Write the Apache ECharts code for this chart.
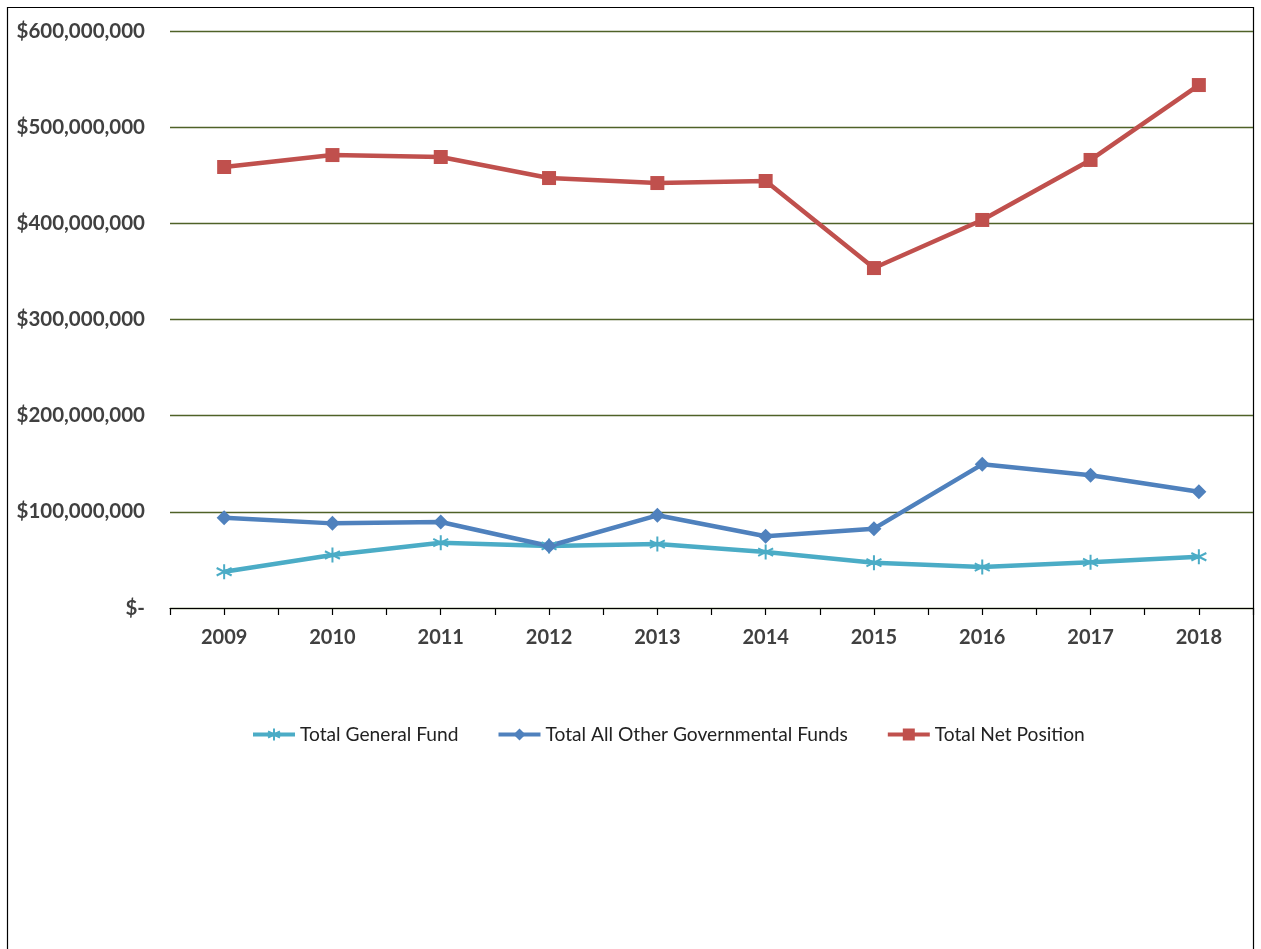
<!DOCTYPE html>
<html>
<head>
<meta charset="utf-8">
<script src="https://cdn.jsdelivr.net/npm/echarts@6/dist/echarts.min.js"></script>
<style>
html,body{margin:0;padding:0;background:#fff;}
#chart{width:1261px;height:949px;}
</style>
</head>
<body>
<div id="chart"></div>
<script>
const years = ['2009','2010','2011','2012','2013','2014','2015','2016','2017','2018'];
const generalFund = [37.7e6, 55.1e6, 67.9e6, 64.5e6, 66.5e6, 58.2e6, 47.1e6, 42.6e6, 47.5e6, 53.3e6];
const otherFunds = [93.9e6, 88.0e6, 89.4e6, 64.5e6, 96.4e6, 74.6e6, 82.5e6, 149.4e6, 138.0e6, 120.9e6];
const netPosition = [458.6e6, 471.0e6, 469.0e6, 447.1e6, 441.9e6, 444.0e6, 353.5e6, 403.5e6, 465.9e6, 543.8e6];
const seriesNames = ['Total General Fund', 'Total All Other Governmental Funds', 'Total Net Position'];

const FONT = 'Lato, "Open Sans", sans-serif';
const chart = echarts.init(document.getElementById('chart'));
const star = 'path://M5,0L5,10M0.7,2.5L9.3,7.5M0.7,7.5L9.3,2.5';

function fmt(v){
  if (v === 0) return '$-';
  return '$' + v.toLocaleString('en-US');
}

chart.setOption({
  backgroundColor: '#fff',
  animation: false,
  graphic: [{
    type: 'rect',
    shape: {x: 7.5, y: 7.5, width: 1246, height: 960},
    style: {fill: 'none', stroke: '#000', lineWidth: 1.2},
    silent: true
  }],
  grid: {left: 170, right: 8, top: 31, bottom: 341, containLabel: false},
  legend: {
    left: 246, top: 720,
    itemWidth: 42, itemHeight: 15, itemGap: 38,
    lineStyle: {width: 4},
    textStyle: {fontFamily: FONT, fontSize: 19.2, color: '#222'},
    data: seriesNames
  },
  xAxis: [{
    type: 'category', data: years, boundaryGap: true,
    axisLine: {show: true, lineStyle: {color: '#000', width: 1.2}},
    axisTick: {show: true, length: 7, lineStyle: {color: '#000', width: 1.2}},
    axisLabel: {fontFamily: FONT, fontSize: 20, fontWeight: 'bold', color: '#404040', margin: 20}
  },{
    type: 'category', data: years, boundaryGap: true, position: 'bottom',
    axisLine: {show: false},
    axisTick: {show: true, alignWithLabel: true, length: 7, lineStyle: {color: '#000', width: 1.2}},
    axisLabel: {show: false}
  }],
  yAxis: {
    type: 'value', min: 0, max: 600000000, interval: 100000000,
    axisLine: {show: false}, axisTick: {show: false},
    splitLine: {lineStyle: {color: '#4f6228', width: 1.4}},
    axisLabel: {formatter: fmt, fontFamily: FONT, fontSize: 20.5, fontWeight: 'bold', color: '#404040', margin: 25}
  },
  series: [{
    name: seriesNames[0], type: 'line', data: generalFund,
    symbol: star, symbolSize: 15,
    lineStyle: {color: '#4bacc6', width: 4.5},
    itemStyle: {color: 'rgba(0,0,0,0)', borderColor: '#4bacc6', borderWidth: 2}
  },{
    name: seriesNames[1], type: 'line', data: otherFunds,
    symbol: 'diamond', symbolSize: 15,
    lineStyle: {color: '#4f81bd', width: 4.5},
    itemStyle: {color: '#4f81bd'}
  },{
    name: seriesNames[2], type: 'line', data: netPosition,
    symbol: 'rect', symbolSize: 14,
    lineStyle: {color: '#c0504d', width: 4.5},
    itemStyle: {color: '#c0504d'}
  }]
});
</script>
</body>
</html>
